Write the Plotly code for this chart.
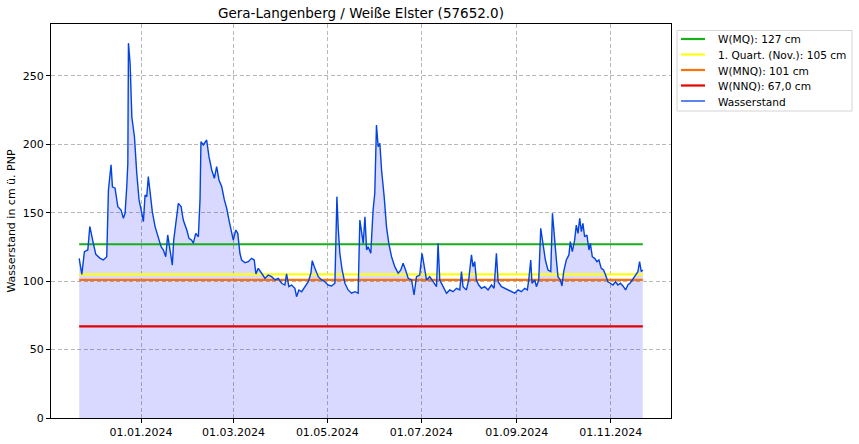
import pandas as pd
import plotly.graph_objects as go

# Water level readings: days relative to 2024-01-01, value in cm
days = [-40.2, -38.5, -36.8, -34.6, -33.3, -32.0, -31.0, -29.4, -26.6, -24.5, -22.3, -21.2, -20.6,
        -19.5, -18.6, -16.9, -15.1, -13.0, -11.5, -10.4, -9.3, -8.6, -8.2, -7.1, -6.0, -4.3, -2.8,
        -1.3, 0.5, 1.5, 2.6, 3.7, 4.7, 5.8, 7.3, 9.1, 11.2, 13.0, 14.5, 16.0, 17.3, 18.8, 20.3, 21.2,
        22.5, 24.2, 26.0, 27.4, 29.7, 31.1, 32.9, 33.9, 35.5, 37.2, 38.3, 38.9, 40.4, 42.6, 44.1,
        45.9, 47.6, 49.1, 50.6, 52.4, 54.1, 55.6, 57.1, 58.9, 59.9, 61.5, 62.8, 64.2, 65.3, 67.5,
        69.6, 71.8, 73.5, 74.6, 76.1, 78.3, 80.5, 82.6, 84.8, 87.0, 89.1, 91.3, 93.4, 94.5, 96.0,
        97.8, 99.9, 101.0, 102.5, 104.3, 106.4, 108.6, 110.3, 111.2, 112.5, 114.0, 115.1, 117.3,
        119.4, 121.5, 123.7, 125.9, 127.2, 128.0, 129.1, 130.6, 132.4, 134.5, 136.7, 138.9, 141.0,
        142.1, 143.2, 144.3, 145.4, 146.5, 147.5, 149.2, 150.7, 151.8, 152.9, 154.0, 155.1, 156.2,
        157.9, 159.4, 160.9, 162.7, 164.8, 167.0, 168.7, 170.2, 171.8, 173.5, 175.7, 177.3, 178.9,
        181.0, 182.5, 183.8, 185.4, 187.5, 189.7, 191.9, 192.9, 194.0, 196.2, 198.4, 200.5, 202.6,
        204.9, 207.0, 208.1, 209.1, 211.3, 212.8, 214.6, 215.6, 216.7, 217.8, 219.3, 221.1, 223.2,
        225.4, 227.6, 229.3, 230.8, 231.9, 234.1, 236.2, 238.3, 240.6, 242.7, 244.8, 247.0, 249.2,
        250.9, 251.8, 253.1, 253.9, 255.7, 256.8, 258.3, 259.6, 261.1, 262.6, 264.3, 266.1, 267.2,
        268.0, 269.0, 269.8, 270.8, 272.3, 273.4, 274.5, 276.2, 277.9, 278.8, 280.1, 281.6, 282.7,
        283.8, 284.9, 286.0, 287.0, 288.1, 289.6, 290.9, 291.8, 293.1, 294.6, 296.1, 297.4, 298.9,
        300.4, 301.7, 303.2, 304.8, 306.5, 308.2, 309.7, 311.3, 313.0, 314.7, 316.2, 317.8, 319.5,
        321.2, 322.7, 323.8, 324.9, 325.9]
level = [116.7, 105.0, 121.6, 122.8, 140.0, 131.3, 127.7, 119.6, 116.7, 115.5, 117.9, 166.7, 172.7,
         185.0, 169.0, 168.0, 154.5, 152.0, 146.0, 149.6, 169.0, 186.0, 274.0, 259.0, 220.0, 205.6, 178.9,
         159.4, 149.6, 143.5, 163.0, 161.8, 176.4, 164.3, 150.8, 139.9, 131.3, 125.2, 122.8, 117.9, 133.8,
         122.8, 111.8, 130.0, 143.5, 156.9, 154.5, 144.7, 137.4, 131.3, 130.0, 127.7, 135.0, 132.5, 160.0,
         202.0, 199.6, 203.2, 191.0, 181.3, 175.2, 183.7, 174.0, 169.0, 159.4, 153.3, 144.7, 135.0, 130.0,
         137.4, 135.0, 120.4, 115.5, 113.5, 114.3, 116.7, 115.5, 105.3, 109.4, 105.8, 102.1, 104.5, 103.3,
         100.9, 102.1, 98.5, 97.2, 105.3, 96.0, 97.2, 94.8, 88.7, 93.6, 92.3, 96.0, 99.6, 105.8, 115.0,
         110.6, 105.8, 103.3, 100.9, 99.6, 97.2, 96.5, 98.5, 161.8, 139.9, 120.4, 108.2, 98.5, 93.6, 91.2,
         92.3, 91.2, 144.7, 135.0, 127.7, 147.1, 122.8, 125.2, 120.4, 152.0, 164.3, 214.2, 198.3, 200.8,
         181.3, 161.8, 139.9, 127.7, 117.9, 110.6, 105.8, 108.2, 113.1, 108.2, 102.1, 100.9, 89.9, 103.3,
         104.5, 120.4, 110.6, 100.9, 103.3, 99.6, 96.0, 127.7, 100.9, 96.0, 91.2, 93.6, 92.3, 94.8, 93.6,
         107.0, 96.0, 93.6, 100.9, 119.2, 110.6, 114.3, 100.9, 97.2, 94.8, 96.0, 93.6, 97.2, 94.8, 120.4,
         99.6, 96.0, 94.8, 93.6, 92.3, 91.2, 93.6, 92.3, 94.8, 93.6, 100.9, 115.5, 98.5, 100.9, 96.0,
         100.9, 138.7, 125.2, 115.5, 108.2, 107.0, 149.6, 137.4, 127.0, 115.0, 103.3, 100.9, 96.5, 107.0,
         115.5, 119.2, 129.0, 121.6, 130.0, 141.0, 135.0, 146.0, 136.2, 142.3, 132.5, 133.8, 122.8, 127.7,
         117.9, 116.7, 114.3, 115.5, 109.4, 108.2, 104.5, 99.6, 98.5, 97.2, 99.6, 97.2, 98.5, 96.5, 93.6,
         97.2, 98.9, 102.1, 104.5, 107.0, 114.3, 107.0, 108.2]

ref_names = ["W(MQ): 127 cm", "1. Quart. (Nov.): 105 cm", "W(MNQ): 101 cm", "W(NNQ): 67,0 cm"]
ref_values = [127, 105, 101, 67.0]
ref_colors = ["#15b01a", "#ffff14", "#f97306", "#e50000"]
series_name = "Wasserstand"
series_color = "#0343df"

y_ticks = [0, 50, 100, 150, 200, 250]

dates = pd.Timestamp("2024-01-01") + pd.to_timedelta(days, unit="D")
t0, t1 = dates.min(), dates.max()
pad = (t1 - t0) * 0.05

W, H = 859, 444
ML, MR, MT, MB = 51, 188, 24, 26
PW, PH = W - ML - MR, H - MT - MB


def px(x):
    return (x - ML) / PW


def py(y):
    return (H - MB - y) / PH


FONT = "DejaVu Sans"
GRID_DASH = "4px,2.5px"
fig = go.Figure()

fig.add_trace(go.Scatter(x=dates, y=level, mode="lines", line=dict(width=0),
                         fill="tozeroy", fillcolor="rgba(0,0,255,0.15)",
                         showlegend=False, hoverinfo="skip"))

for name, val, col in zip(ref_names, ref_values, ref_colors):
    fig.add_trace(go.Scatter(x=[t0, t1], y=[val, val], mode="lines", name=name,
                             line=dict(color=col, width=2.2), showlegend=False))

fig.add_trace(go.Scatter(x=dates, y=level, mode="lines", name=series_name,
                         line=dict(color=series_color, width=1.4), showlegend=False))

# custom legend (matplotlib-like, compact)
shapes = [dict(type="rect", xref="paper", yref="paper", x0=px(677), x1=px(852),
               y0=py(111), y1=py(30.5), line=dict(color="#d4d4d4", width=1),
               fillcolor="white", layer="above")]
annotations = []
leg_names = ref_names + [series_name]
leg_colors = ref_colors + [series_color]
leg_widths = [2.2] * 4 + [1.3]
for i, (n, c, lw) in enumerate(zip(leg_names, leg_colors, leg_widths)):
    yy = 39 + i * 15.5
    shapes.append(dict(type="line", xref="paper", yref="paper", x0=px(681), x1=px(705),
                       y0=py(yy), y1=py(yy), line=dict(color=c, width=lw), layer="above"))
    annotations.append(dict(text=n, xref="paper", yref="paper", x=px(716), y=py(yy + 0.5),
                            xanchor="left", yanchor="middle", showarrow=False,
                            font=dict(size=10.6, family=FONT, color="black")))

fig.update_layout(
    width=W, height=H,
    margin=dict(l=ML, r=MR, t=MT, b=MB, autoexpand=False),
    paper_bgcolor="white", plot_bgcolor="white",
    font=dict(family=FONT, size=11, color="black"),
    title=dict(text="Gera-Langenberg / Weiße Elster (57652.0)", x=(ML + W - MR) / 2 / W,
               xanchor="center", y=1 - 13 / H, yanchor="middle",
               font=dict(size=13.5, family=FONT)),
    showlegend=False,
    shapes=shapes,
    annotations=annotations,
)

fig.update_xaxes(range=[t0 - pad, t1 + pad], tickformat="%d.%m.%Y", dtick="M2",
                 tick0="2024-01-01", showgrid=True, gridcolor="#b8b8b8", griddash=GRID_DASH,
                 gridwidth=0.8, showline=True, linecolor="black", linewidth=1, mirror=True,
                 ticks="outside", ticklen=4, tickcolor="black", zeroline=False,
                 tickfont=dict(size=11), automargin=False)
fig.update_yaxes(range=[0, 288], tickvals=y_ticks, showgrid=True, gridcolor="#b8b8b8",
                 griddash=GRID_DASH, gridwidth=0.8, showline=True, linecolor="black", linewidth=1,
                 mirror=True, ticks="outside", ticklen=4, tickcolor="black", zeroline=False,
                 title=dict(text="Wasserstand in cm ü. PNP", font=dict(size=11), standoff=4),
                 tickfont=dict(size=11), automargin=False)

fig.write_html("out.html")
